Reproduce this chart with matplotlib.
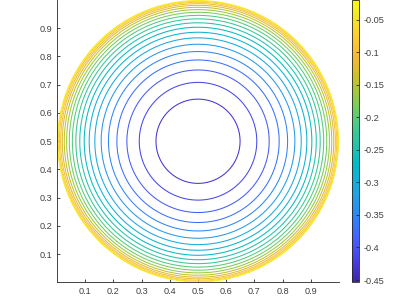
import numpy as np
import matplotlib
matplotlib.use("Agg")
import matplotlib.pyplot as plt
from matplotlib.colors import LinearSegmentedColormap, Normalize
from matplotlib.cm import ScalarMappable

# --- data -------------------------------------------------------------
center_x = 0.5
center_y = 0.5
radius = 0.5
amplitude = 0.906          # surface: z = -amplitude * sqrt(radius^2 - r^2)
levels = [-0.4324, -0.4118, -0.3911, -0.3705, -0.3499, -0.3293, -0.3087,
          -0.2881, -0.2674, -0.2468, -0.2262, -0.2056, -0.1850, -0.1644,
          -0.1437, -0.1231, -0.1025, -0.0819, -0.0613, -0.0406]
clim = [-0.453, -0.020]
xticks = [0.1, 0.2, 0.3, 0.4, 0.5, 0.6, 0.7, 0.8, 0.9]
yticks = [0.1, 0.2, 0.3, 0.4, 0.5, 0.6, 0.7, 0.8, 0.9]
cbar_ticks = [-0.45, -0.4, -0.35, -0.3, -0.25, -0.2, -0.15, -0.1, -0.05]
cbar_labels = ["-0.45", "-0.4", "-0.35", "-0.3", "-0.25", "-0.2", "-0.15", "-0.1", "-0.05"]

# parula-like colormap anchors
parula_rgb = [
    (0.2422, 0.1504, 0.6603), (0.2706, 0.2147, 0.8364), (0.2813, 0.3006, 0.9414),
    (0.2699, 0.3892, 0.9906), (0.1963, 0.4847, 0.9892), (0.1687, 0.5703, 0.9359),
    (0.1248, 0.6459, 0.8883), (0.0689, 0.6948, 0.8394), (0.0067, 0.7312, 0.7660),
    (0.1408, 0.7584, 0.6842), (0.2161, 0.7843, 0.5923), (0.3406, 0.8008, 0.4789),
    (0.5044, 0.7993, 0.3480), (0.6720, 0.7793, 0.2227), (0.8203, 0.7498, 0.1535),
    (0.9393, 0.7288, 0.2100), (0.9970, 0.7659, 0.2199), (0.9786, 0.8386, 0.1766),
    (0.9597, 0.9135, 0.1423), (0.9769, 0.9839, 0.0805)]
parula = LinearSegmentedColormap.from_list("parula", parula_rgb, N=256)

plt.rcParams['font.family'] = ['Liberation Sans', 'DejaVu Sans']

fig = plt.figure(figsize=(3.99, 2.99), dpi=100)
ax = fig.add_axes([0.1429, 0.0552, 0.7068, 0.9448])

g = np.linspace(0, 1, 1201)
X, Y = np.meshgrid(g, g)
R2 = (X - center_x) ** 2 + (Y - center_y) ** 2
Z = np.where(R2 <= radius ** 2, -amplitude * np.sqrt(np.clip(radius ** 2 - R2, 0, None)), np.nan)

norm = Normalize(vmin=clim[0], vmax=clim[1])
ax.contour(X, Y, Z, levels=levels, cmap=parula, norm=norm, linewidths=0.75)

ax.set_xlim(0, 1)
ax.set_ylim(0, 1)
ax.set_xticks(xticks)
ax.set_yticks(yticks)
ax.set_xticklabels([f"{t:g}" for t in xticks])
ax.set_yticklabels([f"{t:g}" for t in yticks])
for s in ['top', 'right']:
    ax.spines[s].set_visible(False)
for s in ['left', 'bottom']:
    ax.spines[s].set_color('#262626')
    ax.spines[s].set_linewidth(0.6)
ax.tick_params(direction='in', length=2.5, width=0.6, colors='#262626',
               labelsize=6.6, labelcolor='#404040', pad=3.5)

cax = fig.add_axes([0.881, 0.0569, 0.019, 0.943])
sm = ScalarMappable(norm=norm, cmap=parula)
cb = fig.colorbar(sm, cax=cax)
cb.set_ticks(cbar_ticks)
cb.set_ticklabels(cbar_labels)
cb.outline.set_linewidth(0.6)
cb.outline.set_edgecolor('#262626')
cax.tick_params(direction='in', length=2, width=0.6, colors='#262626',
                labelsize=6.6, labelcolor='#404040', pad=3)

fig.savefig("out.png", dpi=100)
